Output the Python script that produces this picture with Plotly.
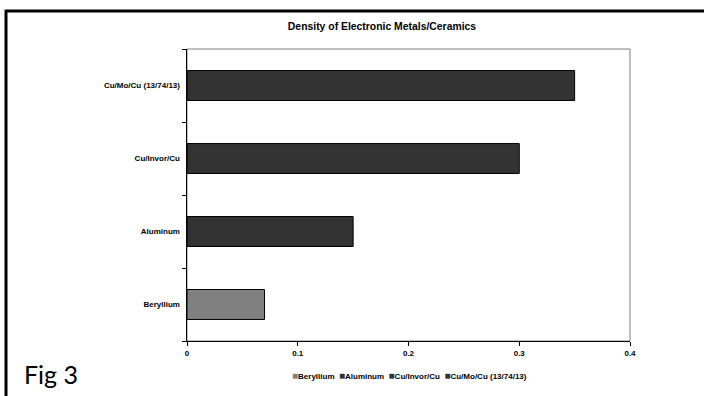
import plotly.graph_objects as go

categories = ["Beryllium", "Aluminum", "Cu/Invor/Cu", "Cu/Mo/Cu (13/74/13)"]
values = [0.07, 0.15, 0.30, 0.35]
colors = ["#808080", "#333333", "#333333", "#333333"]
x_ticks = [0, 0.1, 0.2, 0.3, 0.4]
title_text = "Density of Electronic Metals/Ceramics"
fig_label = "Fig 3"

W, H = 704, 396
L, R, T, B = 187, 630, 49, 341

fig = go.Figure()
for cat, val, col in zip(categories, values, colors):
    fig.add_trace(go.Bar(
        y=[cat], x=[val], orientation="h", name=cat,
        marker=dict(color=col, line=dict(color="#000000", width=1)),
        width=0.41, showlegend=False,
    ))

bold = dict(family="Liberation Sans, Arial", size=8, color="#000000", weight="bold")

def px_x(p):
    return (p - L) / (R - L)

def px_y(p):
    return (B - p) / (B - T)

# legend built as text from the category/colour lists
legend_text = "&nbsp;&nbsp;".join(
    f"<span style='color:{c};font-size:10px'>■</span>{n}" for n, c in zip(categories, colors)
)

fig.update_layout(
    width=W, height=H,
    margin=dict(l=L, r=W - R, t=T, b=H - B),
    paper_bgcolor="white", plot_bgcolor="white",
    barmode="overlay",
    showlegend=False,
    title=dict(text=title_text, x=px_x(382), xref="paper", xanchor="center",
               y=1 - 26 / H, yanchor="middle",
               font=dict(family="Liberation Sans, Arial", size=10.4, color="#000000", weight="bold")),
    xaxis=dict(range=[0, 0.4], tickvals=x_ticks, ticktext=[str(v) for v in x_ticks],
               showgrid=False, zeroline=False, showline=True, linecolor="#000000",
               linewidth=1, ticks="outside", ticklen=4, tickcolor="#000000",
               tickfont=bold, fixedrange=True),
    yaxis=dict(categoryorder="array", categoryarray=categories,
               showgrid=False, zeroline=False, showline=True, linecolor="#000000",
               linewidth=1, ticks="outside", ticklen=4, tickcolor="#000000",
               tickson="boundaries", tickfont=bold, ticksuffix="  ", fixedrange=True),
    shapes=[
        dict(type="rect", xref="paper", yref="paper", x0=0, x1=1, y0=0, y1=1,
             line=dict(color="#808080", width=1), layer="below"),
        dict(type="line", xref="paper", yref="paper", x0=px_x(6), x1=px_x(6),
             y0=px_y(10), y1=px_y(H + 5), line=dict(color="#000000", width=3)),
        dict(type="line", xref="paper", yref="paper", x0=px_x(5), x1=px_x(W + 5),
             y0=px_y(11), y1=px_y(11), line=dict(color="#000000", width=3)),
    ],
    annotations=[
        dict(text=legend_text, xref="paper", yref="paper", x=px_x(409), y=px_y(375),
             xanchor="center", yanchor="middle", showarrow=False, font=bold),
        dict(text=fig_label, xref="paper", yref="paper", x=px_x(22), y=px_y(374),
             xanchor="left", yanchor="middle", showarrow=False,
             font=dict(family="Lato, Open Sans", size=25, color="#000000")),
    ],
)

fig.write_html("out.html")
